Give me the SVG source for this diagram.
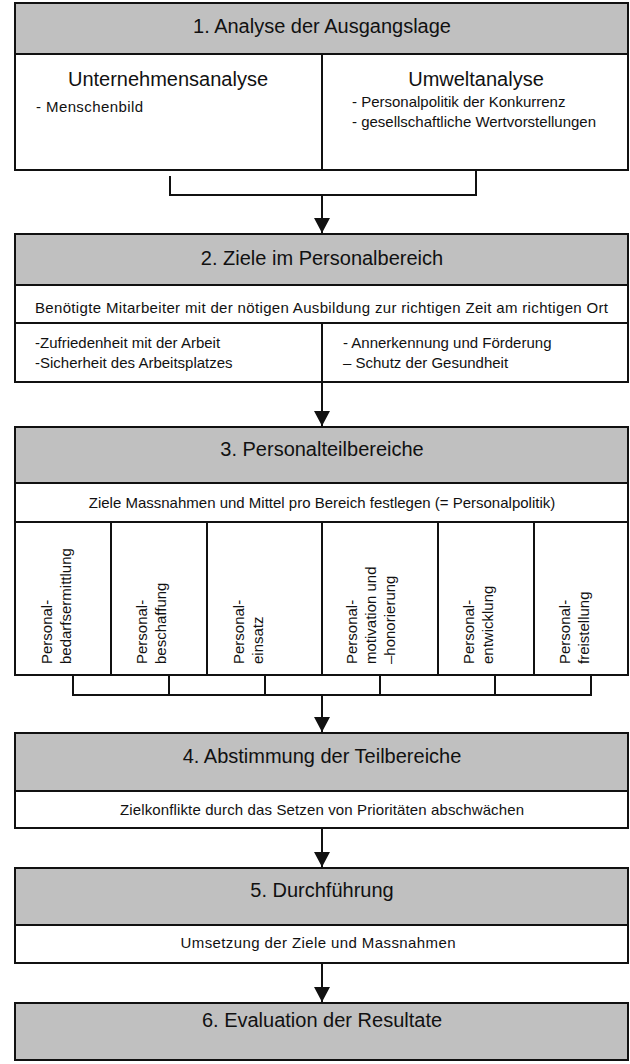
<svg xmlns="http://www.w3.org/2000/svg" width="630" height="1064" viewBox="0 0 630 1064">
<style>
.box{fill:#fff;stroke:#111;stroke-width:2}
.hd{fill:#c0c0c0;stroke:#111;stroke-width:2}
.ln{stroke:#111;stroke-width:2;fill:none}
.t{font-family:"Liberation Sans",Arial,sans-serif;fill:#111}
.h{font-size:20px;text-anchor:middle}
.s{font-size:15px}
.c{text-anchor:middle}
.con{stroke:#111;stroke-width:2;fill:none}
</style>
<defs>
<marker id="ah" markerUnits="userSpaceOnUse" markerWidth="16" markerHeight="16" viewBox="0 0 15 16" refX="15" refY="8" orient="auto">
<path d="M0,0 L15,8 L0,16 z" fill="#111"/>
</marker>
</defs>
<rect width="630" height="1064" fill="#fff"/>

<g id="n1">
<rect class="box" x="15" y="3" width="613" height="167"/>
<rect class="hd" x="15" y="3" width="613" height="51"/>
<line class="ln" x1="322" y1="54" x2="322" y2="170"/>
<text class="t h" x="322" y="33">1. Analyse der Ausgangslage</text>
<text class="t h" x="168" y="86">Unternehmensanalyse</text>
<text class="t s" x="36" y="112" textLength="107">- Menschenbild</text>
<text class="t h" x="476" y="86">Umweltanalyse</text>
<text class="t s" x="352" y="107">- Personalpolitik der Konkurrenz</text>
<text class="t s" x="352" y="127">- gesellschaftliche Wertvorstellungen</text>
</g>

<g id="n2">
<rect class="box" x="15" y="234" width="613" height="148"/>
<rect class="hd" x="15" y="234" width="613" height="51"/>
<line class="ln" x1="15" y1="323" x2="628" y2="323"/>
<line class="ln" x1="322" y1="323" x2="322" y2="382"/>
<text class="t h" x="322" y="265">2. Ziele im Personalbereich</text>
<text class="t s" x="35" y="313" textLength="573">Benötigte Mitarbeiter mit der nötigen Ausbildung zur richtigen Zeit am richtigen Ort</text>
<text class="t s" x="35" y="348">-Zufriedenheit mit der Arbeit</text>
<text class="t s" x="35" y="368">-Sicherheit des Arbeitsplatzes</text>
<text class="t s" x="343" y="348">- Annerkennung und Förderung</text>
<text class="t s" x="343" y="368">– Schutz der Gesundheit</text>
</g>

<g id="n3">
<rect class="box" x="15" y="427" width="613" height="248"/>
<rect class="hd" x="15" y="427" width="613" height="56"/>
<line class="ln" x1="15" y1="522" x2="628" y2="522"/>
<line class="ln" x1="111" y1="522" x2="111" y2="675"/>
<line class="ln" x1="207" y1="522" x2="207" y2="675"/>
<line class="ln" x1="322" y1="522" x2="322" y2="675"/>
<line class="ln" x1="438" y1="522" x2="438" y2="675"/>
<line class="ln" x1="534" y1="522" x2="534" y2="675"/>
<text class="t h" x="322" y="456">3. Personalteilbereiche</text>
<text class="t s c" x="322" y="508">Ziele Massnahmen und Mittel pro Bereich festlegen (= Personalpolitik)</text>
<text class="t s" transform="translate(52,664) rotate(-90)"><tspan x="0" y="0">Personal-</tspan><tspan x="0" y="19">bedarfsermittlung</tspan></text>
<text class="t s" transform="translate(147,664) rotate(-90)"><tspan x="0" y="0">Personal-</tspan><tspan x="0" y="19">beschaffung</tspan></text>
<text class="t s" transform="translate(244,664) rotate(-90)"><tspan x="0" y="0">Personal-</tspan><tspan x="0" y="19">einsatz</tspan></text>
<text class="t s" transform="translate(357,664) rotate(-90)"><tspan x="0" y="0">Personal-</tspan><tspan x="0" y="19">motivation und</tspan><tspan x="0" y="38">–honorierung</tspan></text>
<text class="t s" transform="translate(474,664) rotate(-90)"><tspan x="0" y="0">Personal-</tspan><tspan x="0" y="19">entwicklung</tspan></text>
<text class="t s" transform="translate(570,664) rotate(-90)"><tspan x="0" y="0">Personal-</tspan><tspan x="0" y="19">freistellung</tspan></text>
</g>

<g id="n4">
<rect class="box" x="15" y="733" width="613" height="95"/>
<rect class="hd" x="15" y="733" width="613" height="58"/>
<text class="t h" x="322" y="763">4. Abstimmung der Teilbereiche</text>
<text class="t s c" x="322" y="815" textLength="404">Zielkonflikte durch das Setzen von Prioritäten abschwächen</text>
</g>

<g id="n5">
<rect class="box" x="15" y="868" width="613" height="95"/>
<rect class="hd" x="15" y="868" width="613" height="57"/>
<text class="t h" x="322" y="897">5. Durchführung</text>
<text class="t s c" x="318" y="948" textLength="275">Umsetzung der Ziele und Massnahmen</text>
</g>

<g id="n6">
<rect class="hd" x="15" y="1003" width="613" height="57"/>
<text class="t h" x="322" y="1027">6. Evaluation der Resultate</text>
</g>

<g id="connectors">
<path class="con" d="M170,176 V195 H476 V170"/>
<line class="con" x1="322" y1="195" x2="322" y2="233" marker-end="url(#ah)"/>
<line class="con" x1="322" y1="382" x2="322" y2="426" marker-end="url(#ah)"/>
<path class="con" d="M73,675 V695 H591 V675 M169,675 V695 M265,675 V695 M380,675 V695 M495,675 V695"/>
<line class="con" x1="322" y1="695" x2="322" y2="732" marker-end="url(#ah)"/>
<line class="con" x1="322" y1="828" x2="322" y2="867" marker-end="url(#ah)"/>
<line class="con" x1="322" y1="963" x2="322" y2="1002" marker-end="url(#ah)"/>
</g>
</svg>
